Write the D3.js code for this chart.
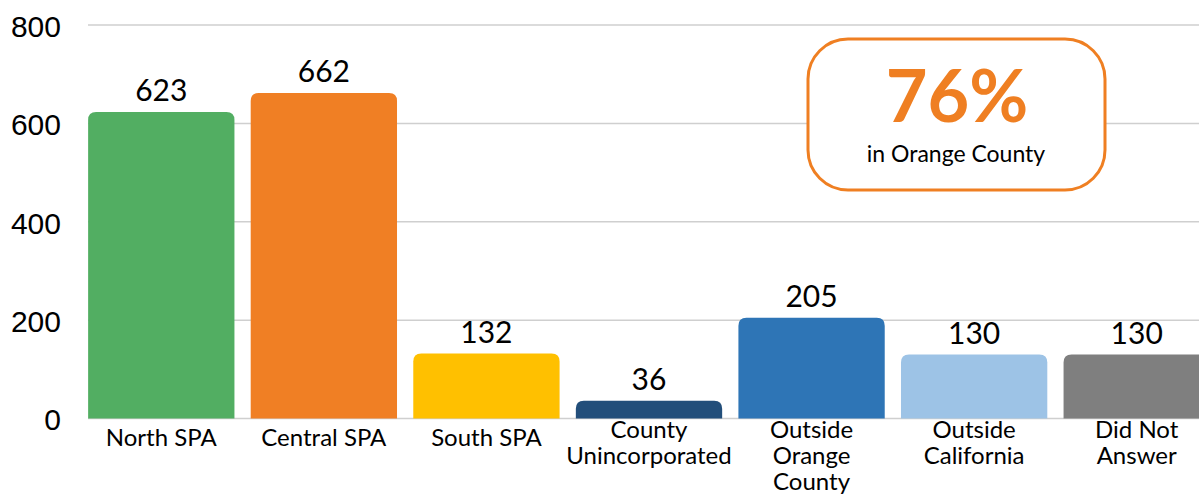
<!DOCTYPE html>
<html>
<head>
<meta charset="utf-8">
<script src="https://cdn.jsdelivr.net/npm/d3@7"></script>
<style>
  body { margin: 0; background: #fff; }
  svg { display: block; font-family: Lato, 'Open Sans', sans-serif; }
</style>
</head>
<body>
<div id="chart"></div>
<script>
// Data
var categories = ['North SPA', 'Central SPA', 'South SPA', 'County Unincorporated',
    'Outside Orange County', 'Outside California', 'Did Not Answer'];
var labelLines = [['North SPA'], ['Central SPA'], ['South SPA'], ['County', 'Unincorporated'],
    ['Outside', 'Orange', 'County'], ['Outside', 'California'], ['Did Not', 'Answer']];
var values = [623, 662, 132, 36, 205, 130, 130];
var barColors = ['#52ae62', '#f07f24', '#ffc000', '#224e7a', '#2e75b6', '#9dc3e6', '#7f7f7f'];
var yTicks = [0, 200, 400, 600, 800];
var calloutValue = '76%';
var calloutText = 'in Orange County';

var fullWidth = 1199;
var fullHeight = 495;

var svg = d3.select('#chart').append('svg')
    .attr('width', fullWidth)
    .attr('height', fullHeight);

// Scales
var xScale = d3.scaleBand()
    .domain(categories)
    .range([80, 1218])
    .paddingInner(0.1)
    .paddingOuter(0.05);

var yScale = d3.scaleLinear()
    .domain([0, 800])
    .range([418.5, 25]);

// Gridlines
svg.append('g')
    .selectAll('line')
    .data(yTicks)
    .enter()
    .append('line')
    .attr('x1', 88)
    .attr('x2', fullWidth)
    .attr('y1', function (d) { return yScale(d); })
    .attr('y2', function (d) { return yScale(d); })
    .style('stroke', '#cfcfcf')
    .style('stroke-width', 1.5);

// Y axis (labels only)
var yAxis = d3.axisLeft(yScale).tickValues(yTicks).tickSize(0).tickPadding(0);
var yAxisEle = svg.append('g')
    .attr('transform', 'translate(61,0)')
    .call(yAxis);
yAxisEle.select('.domain').remove();
yAxisEle.selectAll('text')
    .style('font-size', '30px')
    .style('fill', '#000')
    .attr('dy', '0.38em');

// Bars with rounded top corners
var r = 8;
function barPath(d, i) {
    var x0 = xScale(categories[i]);
    var w = xScale.bandwidth();
    var y0 = yScale(d);
    var yb = yScale(0);
    var rr = Math.min(r, (yb - y0));
    return 'M' + x0 + ',' + yb +
        'V' + (y0 + rr) +
        'Q' + x0 + ',' + y0 + ' ' + (x0 + rr) + ',' + y0 +
        'H' + (x0 + w - rr) +
        'Q' + (x0 + w) + ',' + y0 + ' ' + (x0 + w) + ',' + (y0 + rr) +
        'V' + yb + 'Z';
}

svg.append('g')
    .selectAll('path')
    .data(values)
    .enter()
    .append('path')
    .attr('d', barPath)
    .style('fill', function (d, i) { return barColors[i]; });

// Value labels
svg.append('g')
    .selectAll('text')
    .data(values)
    .enter()
    .append('text')
    .attr('x', function (d, i) { return xScale(categories[i]) + xScale.bandwidth() / 2; })
    .attr('y', function (d) { return yScale(d) - 11; })
    .style('text-anchor', 'middle')
    .style('font-size', '30px')
    .style('fill', '#000')
    .text(function (d) { return d; });

// Category labels (multi-line)
var catLabels = svg.append('g')
    .selectAll('text')
    .data(labelLines)
    .enter()
    .append('text')
    .attr('x', function (d, i) { return xScale(categories[i]) + xScale.bandwidth() / 2; })
    .attr('y', function (d) { return d.length === 1 ? 446 : 438; })
    .style('text-anchor', 'middle')
    .style('font-size', '24px')
    .style('fill', '#000');

catLabels.each(function (lines, i) {
    var t = d3.select(this);
    var cx = xScale(categories[i]) + xScale.bandwidth() / 2;
    lines.forEach(function (line, j) {
        t.append('tspan')
            .attr('x', cx)
            .attr('dy', j === 0 ? 0 : 26)
            .text(line);
    });
});

// Callout box
var callout = svg.append('g');
callout.append('rect')
    .attr('x', 808)
    .attr('y', 39)
    .attr('width', 297)
    .attr('height', 151)
    .attr('rx', 40)
    .attr('ry', 40)
    .style('fill', '#fff')
    .style('stroke', '#ef7f22')
    .style('stroke-width', 3);

callout.append('text')
    .attr('x', 957)
    .attr('y', 122)
    .style('text-anchor', 'middle')
    .style('font-size', '72px')
    .style('font-weight', 'bold')
    .style('fill', '#ef7f22')
    .text(calloutValue);

callout.append('text')
    .attr('x', 956)
    .attr('y', 162)
    .style('text-anchor', 'middle')
    .style('font-size', '23px')
    .style('fill', '#000')
    .text(calloutText);
</script>
</body>
</html>
